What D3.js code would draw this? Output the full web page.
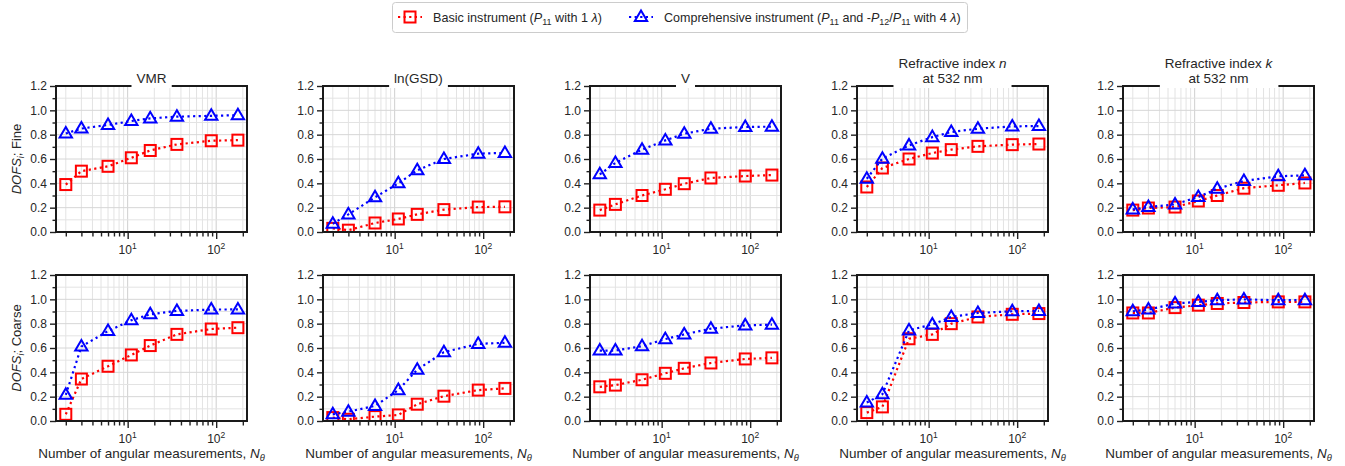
<!DOCTYPE html>
<html><head><meta charset="utf-8">
<script src="https://cdn.jsdelivr.net/npm/d3@7"></script>
<style>
body{margin:0;background:#fff}
text{font-family:"Liberation Sans",Arial,Helvetica,sans-serif;fill:#262626}
</style>
</head><body>
<svg id="c" width="1345" height="466"></svg>
<script>
// ---------------- data ----------------
const nTheta = [2, 3, 6, 11, 18, 36, 88, 176];
const panelTitles = [["VMR"], ["ln(GSD)"], ["V"], ["Refractive index |n|", "at 532 nm"], ["Refractive index |k|", "at 532 nm"]];
const rowNames = ["Fine", "Coarse"];
const yTicks = [0.0, 0.2, 0.4, 0.6, 0.8, 1.0, 1.2];
const yMinorTicks = [0.1, 0.3, 0.5, 0.7, 0.9, 1.1];
const xMajorTicks = [10, 100];
const xMinorTicks = [2, 3, 4, 5, 6, 7, 8, 9, 20, 30, 40, 50, 60, 70, 80, 90, 200];

// Basic instrument, fine mode (per panel)
const basicFine = [
  [0.39, 0.50, 0.54, 0.61, 0.67, 0.72, 0.75, 0.755],
  [0.03, 0.015, 0.074, 0.107, 0.145, 0.184, 0.205, 0.207],
  [0.18, 0.227, 0.30, 0.351, 0.397, 0.444, 0.46, 0.468],
  [0.37, 0.526, 0.60, 0.649, 0.677, 0.704, 0.718, 0.723],
  [0.18, 0.197, 0.205, 0.255, 0.30, 0.36, 0.384, 0.403]
];
// Comprehensive instrument, fine mode
const compFine = [
  [0.81, 0.85, 0.88, 0.912, 0.934, 0.948, 0.955, 0.96],
  [0.068, 0.145, 0.285, 0.40, 0.507, 0.60, 0.644, 0.65],
  [0.474, 0.567, 0.677, 0.753, 0.808, 0.849, 0.863, 0.866],
  [0.438, 0.603, 0.712, 0.78, 0.822, 0.849, 0.868, 0.871],
  [0.186, 0.205, 0.227, 0.288, 0.356, 0.419, 0.458, 0.466]
];
// Basic instrument, coarse mode
const basicCoarse = [
  [0.055, 0.345, 0.45, 0.543, 0.62, 0.712, 0.756, 0.767],
  [0.028, 0.014, 0.036, 0.05, 0.138, 0.204, 0.254, 0.268],
  [0.281, 0.295, 0.339, 0.392, 0.433, 0.477, 0.51, 0.519],
  [0.069, 0.116, 0.676, 0.712, 0.80, 0.855, 0.877, 0.883],
  [0.888, 0.888, 0.932, 0.952, 0.966, 0.974, 0.979, 0.979]
];
// Comprehensive instrument, coarse mode
const compCoarse = [
  [0.215, 0.612, 0.739, 0.828, 0.877, 0.905, 0.916, 0.917],
  [0.055, 0.077, 0.124, 0.254, 0.422, 0.566, 0.634, 0.643],
  [0.579, 0.579, 0.615, 0.673, 0.712, 0.759, 0.786, 0.792],
  [0.152, 0.22, 0.745, 0.794, 0.855, 0.888, 0.902, 0.905],
  [0.902, 0.916, 0.966, 0.979, 0.993, 0.999, 0.993, 0.993]
];
const seriesNames = ["Basic instrument", "Comprehensive instrument"];

// ---------------- layout ----------------
const svg = d3.select("#c");
const RED = "#ff0000", BLUE = "#0000ff";
const panelLeft = [56, 323, 590, 857, 1123];
const panelW = 191;
const rowTop = [86, 275];
const panelH = 146;

const defs = svg.append("defs");

function fitWidth(textSel, target) {
  const w = textSel.node().getBBox().width;
  const fs = parseFloat(textSel.attr("font-size"));
  const k = target / w;
  textSel.attr("font-size", fs * k);
  textSel.selectAll("tspan").each(function () {
    const s = d3.select(this);
    const f = s.attr("font-size");
    if (f) s.attr("font-size", parseFloat(f) * k);
  });
}

function dotted(sel, color) {
  sel.attr("fill", "none").attr("stroke", color).attr("stroke-width", 2.2)
     .attr("stroke-dasharray", "2.2,3.4");
}
function squareMarker(g, x, y, color) {
  g.append("rect").attr("x", x - 5.5).attr("y", y - 5.5).attr("width", 11).attr("height", 11)
    .attr("fill", "none").attr("stroke", color).attr("stroke-width", 2);
}
function triMarker(g, x, y, color) {
  const r = 6.5;
  const pts = [[x, y - r], [x - r * 0.95, y + r * 0.62], [x + r * 0.95, y + r * 0.62]];
  g.append("path").attr("d", "M" + pts.map(p => p.join(",")).join("L") + "Z")
    .attr("fill", "none").attr("stroke", color).attr("stroke-width", 2).attr("stroke-linejoin", "miter");
}

for (let row = 0; row < 2; row++) {
  for (let p = 0; p < 5; p++) {
    const x0 = panelLeft[p], y0 = rowTop[row];
    const x = d3.scaleLog().domain([1.55, 223]).range([x0, x0 + panelW]);
    const y = d3.scaleLinear().domain([0, 1.2]).range([y0 + panelH, y0]);
    const g = svg.append("g");
    const cid = "clip" + row + "_" + p;
    defs.append("clipPath").attr("id", cid).append("rect")
      .attr("x", x0).attr("y", y0).attr("width", panelW).attr("height", panelH);

    // grid
    const grid = g.append("g");
    grid.selectAll(".gx").data(xMinorTicks.concat(xMajorTicks)).join("line")
      .attr("x1", d => x(d)).attr("x2", d => x(d)).attr("y1", y0).attr("y2", y0 + panelH)
      .attr("stroke", d => (d === 10 || d === 100) ? "#cfcfcf" : "#e3e3e3").attr("stroke-width", 1);
    grid.selectAll(".gy").data(yMinorTicks.concat(yTicks)).join("line")
      .attr("y1", d => y(d)).attr("y2", d => y(d)).attr("x1", x0).attr("x2", x0 + panelW)
      .attr("stroke", d => yTicks.includes(d) ? "#d6d6d6" : "#e3e3e3").attr("stroke-width", 1);

    // data
    const data = row === 0 ? [basicFine[p], compFine[p]] : [basicCoarse[p], compCoarse[p]];
    const colors = [RED, BLUE];
    const plot = g.append("g").attr("clip-path", `url(#${cid})`);
    const line = d3.line().x((d, i) => x(nTheta[i])).y(d => y(d));
    data.forEach((vals, s) => {
      plot.append("path").datum(vals).attr("d", line).call(dotted, colors[s]);
      vals.forEach((v, i) => {
        if (s === 0) squareMarker(plot, x(nTheta[i]), y(v), colors[s]);
        else triMarker(plot, x(nTheta[i]), y(v), colors[s]);
      });
    });

    // axes
    const yAxis = d3.axisLeft(y).tickValues(yTicks).tickFormat(d3.format(".1f")).tickSize(6).tickPadding(3);
    const ya = g.append("g").attr("transform", `translate(${x0},0)`).call(yAxis);
    const yAxisMinor = d3.axisLeft(y).tickValues(yMinorTicks).tickFormat("").tickSize(3.5);
    const ym = g.append("g").attr("transform", `translate(${x0},0)`).call(yAxisMinor);
    const xAxis = d3.axisBottom(x).tickValues(xMajorTicks).tickFormat("").tickSize(7).tickPadding(3);
    const xa = g.append("g").attr("transform", `translate(0,${y0 + panelH})`).call(xAxis);
    const xAxisMinor = d3.axisBottom(x).tickValues(xMinorTicks).tickFormat("").tickSize(4.5);
    const xm = g.append("g").attr("transform", `translate(0,${y0 + panelH})`).call(xAxisMinor);
    [ya, ym, xa, xm].forEach(a => {
      a.select(".domain").remove();
      a.selectAll(".tick line").attr("stroke", "#222").attr("stroke-width", 1.4);
      a.selectAll("text").attr("font-size", 12).attr("fill", "#262626")
        .style("font-family", '"Liberation Sans",Arial,sans-serif');
    });
    // x tick labels with superscripts
    xMajorTicks.forEach(v => {
      const t = g.append("text").attr("x", x(v)).attr("y", y0 + panelH + 22)
        .attr("text-anchor", "middle").attr("font-size", 12);
      t.append("tspan").text("10");
      t.append("tspan").attr("dy", -5).attr("font-size", 8.5).text(Math.round(Math.log10(v)));
    });

    // spines
    g.append("rect").attr("x", x0).attr("y", y0).attr("width", panelW).attr("height", panelH)
      .attr("fill", "none").attr("stroke", "#1a1a1a").attr("stroke-width", 2);

    // titles with white bbox
    if (row === 0) {
      const lines = panelTitles[p];
      const cx = x0 + panelW / 2;
      const tg = g.append("g");
      const bg = tg.append("rect").attr("fill", "#fff");
      const tt = tg.append("text").attr("text-anchor", "middle").attr("font-size", 13.5);
      lines.forEach((ln, li) => {
        const ts = tt.append("tspan").attr("x", cx).attr("y", y0 - 3 - (lines.length - 1 - li) * 15);
        const parts = ln.split("|");
        parts.forEach((pt, k) => {
          if (!pt) return;
          const s = ts.append("tspan").text(pt);
          if (k % 2 === 1) s.attr("font-style", "italic");
        });
      });
      const bb = tt.node().getBBox();
      bg.attr("x", bb.x - 5).attr("y", bb.y - 2).attr("width", bb.width + 10).attr("height", (y0 + 2) - (bb.y - 2));
    }

    // y label
    if (p === 0) {
      const cy = y0 + panelH / 2;
      const t = g.append("text").attr("transform", `translate(21,${cy}) rotate(-90)`)
        .attr("text-anchor", "middle").attr("font-size", 13);
      t.append("tspan").attr("font-style", "italic").text("DOFS");
      t.append("tspan").attr("font-style", "italic").attr("font-size", 9).attr("dy", 3).text("i");
      t.append("tspan").attr("dy", -3).text("; " + rowNames[row]);
    }
    // x label
    if (row === 1) {
      const t = g.append("text").attr("x", x0 + panelW / 2).attr("y", y0 + panelH + 37)
        .attr("text-anchor", "middle").attr("font-size", 13);
      t.append("tspan").text("Number of angular measurements, ");
      t.append("tspan").attr("font-style", "italic").text("N");
      t.append("tspan").attr("font-style", "italic").attr("font-size", 9).attr("dy", 3).text("θ");
      fitWidth(t, 227);
    }
  }
}

// ---------------- legend ----------------
const lg = svg.append("g");
lg.append("rect").attr("x", 392.5).attr("y", 2.5).attr("width", 575).attr("height", 30)
  .attr("rx", 3).attr("fill", "#fff").attr("stroke", "#cccccc").attr("stroke-width", 1);
function legendEntry(xs, tx, width, color, marker, parts) {
  const ly = 17;
  lg.append("path").attr("d", `M${xs},${ly}L${xs + 24},${ly}`).call(dotted, color);
  if (marker === "sq") squareMarker(lg, xs + 12, ly, color); else triMarker(lg, xs + 12, ly, color);
  const t = lg.append("text").attr("x", tx).attr("y", ly + 4.5).attr("font-size", 12.5);
  parts.forEach(pt => {
    const s = t.append("tspan").text(pt.t);
    if (pt.i) s.attr("font-style", "italic");
    if (pt.sub) s.attr("font-size", 9).attr("dy", 3);
    if (pt.up) s.attr("dy", -3);
  });
  fitWidth(t, width);
}
legendEntry(398, 433, 169, RED, "sq", [
  {t: seriesNames[0] + " ("}, {t: "P", i: 1}, {t: "11", sub: 1}, {t: " with 1 ", up: 1}, {t: "λ", i: 1}, {t: ")"}
]);
legendEntry(629, 664, 297, BLUE, "tri", [
  {t: seriesNames[1] + " ("}, {t: "P", i: 1}, {t: "11", sub: 1}, {t: " and -", up: 1}, {t: "P", i: 1},
  {t: "12", sub: 1}, {t: "/", up: 1}, {t: "P", i: 1}, {t: "11", sub: 1}, {t: " with 4 ", up: 1}, {t: "λ", i: 1}, {t: ")"}
]);
</script>
</body></html>
